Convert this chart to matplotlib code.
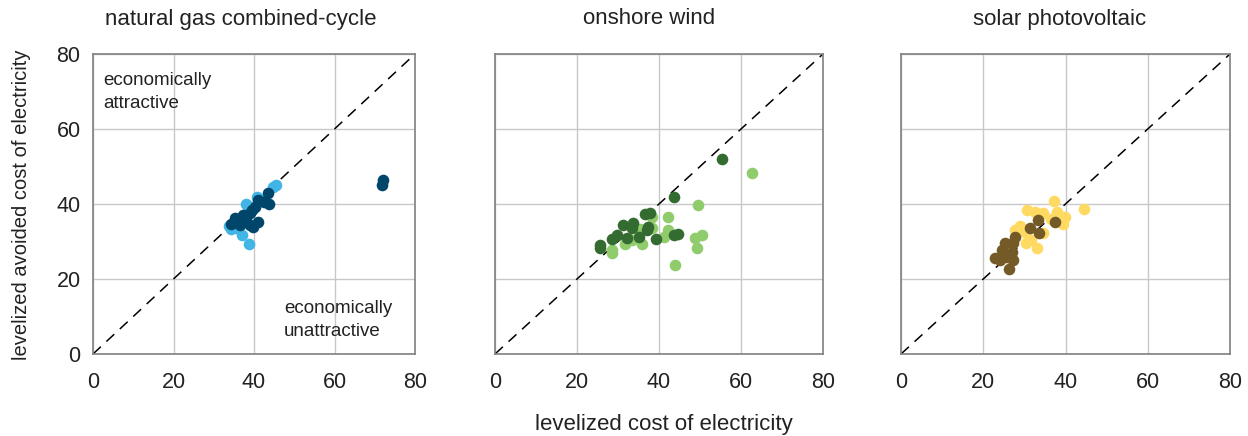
import numpy as np
import matplotlib.pyplot as plt

plt.rcParams['font.family'] = ['Liberation Sans', 'DejaVu Sans']

titles = ['natural gas combined-cycle', 'onshore wind', 'solar photovoltaic']

# natural gas combined-cycle
ngcc_light_x = [45.5, 44.8, 38.7, 37.1, 33.8, 37.9, 34.2, 40.7, 36.0, 38.5, 42.0, 35.5]
ngcc_light_y = [45.1, 44.5, 29.3, 31.7, 34.2, 39.9, 33.2, 41.8, 35.0, 39.5, 41.0, 33.5]
ngcc_dark_x = [72.0, 71.8, 43.6, 43.8, 41.1, 40.2, 34.2, 36.5, 36.5, 39.0, 39.8, 41.1,
               37.3, 39.0, 39.4, 35.3, 38.0, 42.5]
ngcc_dark_y = [46.4, 45.0, 42.9, 39.9, 41.1, 39.3, 34.7, 35.7, 34.4, 34.4, 33.9, 35.3,
               37.1, 37.5, 38.4, 36.2, 36.0, 40.5]

# onshore wind
wind_light_x = [62.6, 49.4, 42.1, 42.3, 41.1, 48.8, 50.4, 49.2, 44.0, 28.6, 28.6, 35.8,
                31.7, 33.3, 38.2, 38.2, 35.4]
wind_light_y = [48.3, 39.6, 36.4, 33.1, 31.3, 30.8, 31.7, 28.2, 23.7, 26.8, 27.7, 29.3,
                29.3, 30.4, 33.5, 36.6, 33.2]
wind_dark_x = [55.3, 43.7, 36.6, 37.8, 31.3, 33.7, 33.3, 37.4, 37.0, 29.7, 28.5, 32.1,
               35.2, 39.2, 25.6, 25.6, 43.7, 44.6]
wind_dark_y = [52.0, 41.8, 37.3, 37.5, 34.4, 34.8, 33.5, 33.9, 33.1, 31.7, 30.6, 30.8,
               31.1, 30.6, 29.1, 28.4, 31.7, 31.9]

# solar photovoltaic
pv_light_x = [37.2, 44.6, 30.6, 32.6, 34.6, 37.9, 39.9, 39.3, 34.6, 33.0, 27.7, 30.4,
              30.1, 29.0, 36.5, 31.5]
pv_light_y = [40.9, 38.7, 38.4, 37.9, 37.5, 37.9, 36.6, 34.7, 32.2, 28.4, 33.1, 29.5,
              32.6, 34.0, 36.0, 30.5]
pv_dark_x = [37.4, 33.4, 31.4, 33.6, 27.7, 25.3, 27.3, 24.5, 26.9, 22.9, 24.1, 27.3,
             26.3, 25.7]
pv_dark_y = [35.3, 35.7, 33.5, 32.2, 31.3, 29.5, 29.5, 27.7, 27.3, 25.5, 25.1, 25.1,
             22.6, 26.0]

series = [
    (ngcc_light_x, ngcc_light_y, ngcc_dark_x, ngcc_dark_y, '#41b6e6', '#00466b'),
    (wind_light_x, wind_light_y, wind_dark_x, wind_dark_y, '#91cc6c', '#336b30'),
    (pv_light_x, pv_light_y, pv_dark_x, pv_dark_y, '#ffda63', '#735a26'),
]

W, H = 1248, 436
fig = plt.figure(figsize=(W / 100, H / 100), dpi=100)

# axes boxes in pixels: left, right
boxes = [(93, 415), (495, 823), (901, 1230)]
top, bottom = 54, 354
title_x = [241, 649, 1060]

for i, (left, right) in enumerate(boxes):
    ax = fig.add_axes([left / W, 1 - bottom / H, (right - left) / W, (bottom - top) / H])
    lx, ly, dx, dy, lc, dc = series[i]
    ax.plot([0, 80], [0, 80], color='black', lw=1.1, ls=(0, (7, 5)), zorder=2)
    ax.scatter(lx, ly, s=70, color=lc, lw=0, zorder=3)
    ax.scatter(dx, dy, s=70, color=dc, lw=0, zorder=4)
    ax.set_xlim(0, 80)
    ax.set_ylim(0, 80)
    ax.set_xticks([0, 20, 40, 60, 80])
    ax.set_yticks([0, 20, 40, 60, 80])
    ax.grid(True, color='#c8c8c8', lw=1)
    ax.set_axisbelow(True)
    ax.tick_params(length=0, labelsize=15.5, colors='#222222')
    ax.tick_params(axis='x', pad=13)
    ax.tick_params(axis='y', pad=9)
    if i > 0:
        ax.set_yticklabels([])
    for sp in ax.spines.values():
        sp.set_color('#808080')
        sp.set_linewidth(1.2)
    fig.text(title_x[i] / W, 1 - 19 / H, titles[i], ha='center', va='center',
             fontsize=16, color='#222222')
    if i == 0:
        ax.text(2.5, 69.8, 'economically\nattractive', fontsize=13.5, color='#222222',
                va='center', ha='left', linespacing=1.45)
        ax.text(47.5, 9.0, 'economically\nunattractive', fontsize=13.5, color='#222222',
                va='center', ha='left', linespacing=1.45)

fig.text(22 / W, 1 - 205 / H, 'levelized avoided cost of electricity', rotation=90,
         ha='center', va='center', fontsize=14.5, color='#222222')
fig.text(664 / W, 1 - 424 / H, 'levelized cost of electricity', ha='center',
         va='center', fontsize=16, color='#222222')

fig.savefig('out.png', dpi=100)
